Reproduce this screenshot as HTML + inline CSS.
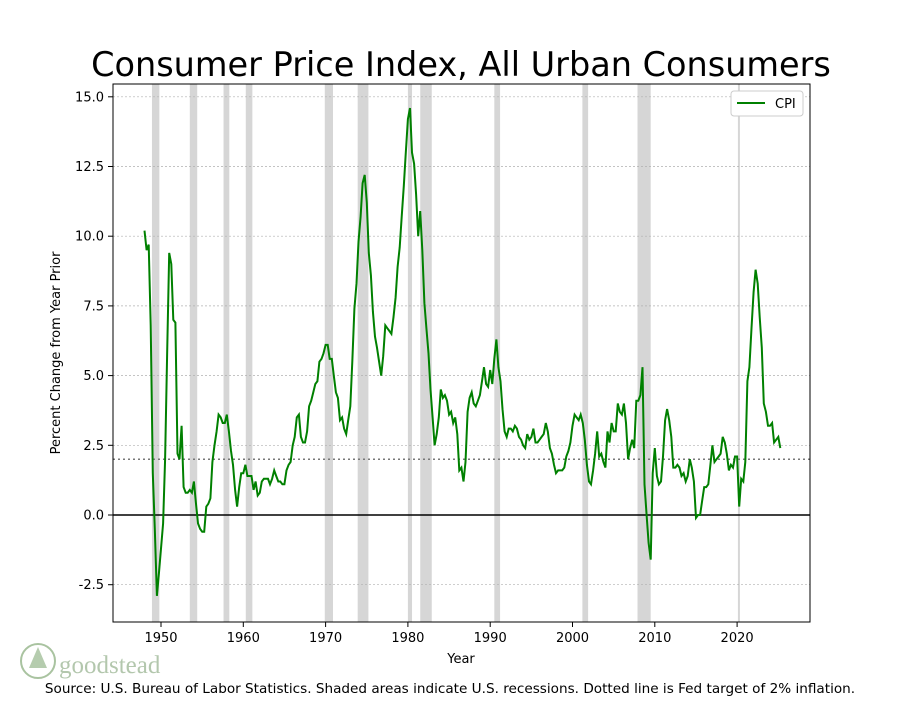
<!DOCTYPE html>
<html><head><meta charset="utf-8"><style>
body{margin:0;background:#fff;width:900px;height:700px;overflow:hidden;font-family:"Liberation Sans","DejaVu Sans",sans-serif}
</style></head><body>
<svg id="chart" width="900" height="700" xmlns="http://www.w3.org/2000/svg" font-family="DejaVu Sans, Liberation Sans, sans-serif">
<text x="461" y="76" font-size="33.5" text-anchor="middle">Consumer Price Index, All Urban Consumers</text>
<g id="rec"></g><g id="grid"></g><g id="ticks"></g>
<path id="line" fill="none" stroke="#008000" stroke-width="2"/>
<rect x="113" y="84" width="697" height="538" fill="none" stroke="#000" stroke-width="1"/>
<g>
<rect x="731" y="91" width="72" height="25" rx="3" fill="#fff" stroke="#ccc"/>
<line x1="737" y1="103" x2="765" y2="103" stroke="#008000" stroke-width="2"/>
<text x="775" y="108" font-size="13">CPI</text>
</g>
<text x="461" y="663" font-size="13" text-anchor="middle">Year</text>
<text transform="translate(60,353) rotate(-90)" font-size="13" text-anchor="middle">Percent Change from Year Prior</text>
<g>
<circle cx="38" cy="661" r="17" fill="none" stroke="#a9c3a0" stroke-width="2"/>
<path d="M38 647 L29 668 L47 668 Z" fill="#b5ccae"/>
<text x="59" y="673" font-family="Liberation Serif, serif" font-size="25" fill="#b3c7ad">goodstead</text>
</g>
<text x="450" y="693" font-size="13.6" text-anchor="middle">Source: U.S. Bureau of Labor Statistics. Shaded areas indicate U.S. recessions. Dotted line is Fed target of 2% inflation.</text>
</svg>
<script>
const startYear = 1948;
const cpiValues = [10.2,9.5,9.7,6.8, 1.5,-0.5,-2.9,-2.1, -1.2,-0.3,2.0,5.9, 9.4,9.0,7.0,6.9, 2.2,2.0,3.2,1.0, 0.8,0.8,0.9,0.8, 1.2,0.4,-0.3,-0.5, -0.6,-0.6,0.3,0.4, 0.6,1.9,2.5,3.0, 3.6,3.5,3.3,3.3, 3.6,3.0,2.3,1.8, 0.9,0.3,1.0,1.5, 1.5,1.8,1.4,1.4, 1.4,0.9,1.2,0.7, 0.8,1.2,1.3,1.3, 1.3,1.1,1.3,1.6, 1.4,1.2,1.2,1.1, 1.1,1.6,1.8,1.9, 2.5,2.8,3.5,3.6, 2.8,2.6,2.6,3.0, 3.9,4.1,4.4,4.7, 4.8,5.5,5.6,5.8, 6.1,6.1,5.6,5.6, 5.0,4.4,4.2,3.4, 3.5,3.1,2.9,3.4, 3.9,5.5,7.4,8.3, 9.8,10.7,11.9,12.2, 11.2,9.4,8.6,7.3, 6.4,6.0,5.5,5.0, 5.7,6.8,6.7,6.6, 6.5,7.1,7.8,8.9, 9.6,10.7,11.8,13.0, 14.2,14.6,13.0,12.6, 11.5,10.0,10.9,9.5, 7.6,6.7,5.8,4.5, 3.5,2.5,2.9,3.5, 4.5,4.2,4.3,4.1, 3.6,3.7,3.3,3.5, 2.9,1.6,1.7,1.2, 1.9,3.7,4.2,4.4, 4.0,3.9,4.1,4.3, 4.8,5.3,4.7,4.6, 5.2,4.7,5.6,6.3, 5.3,4.8,3.8,3.0, 2.8,3.1,3.1,3.0, 3.2,3.1,2.8,2.7, 2.5,2.4,2.9,2.7, 2.8,3.1,2.6,2.6, 2.7,2.8,2.9,3.3, 3.0,2.4,2.2,1.8, 1.5,1.6,1.6,1.6, 1.7,2.1,2.3,2.6, 3.2,3.6,3.5,3.4, 3.6,3.3,2.7,1.8, 1.2,1.1,1.6,2.2, 3.0,2.1,2.2,1.9, 1.7,3.0,2.6,3.3, 3.0,3.0,4.0,3.7, 3.6,4.0,3.3,2.0, 2.4,2.7,2.4,4.1, 4.1,4.3,5.3,1.1, 0.0,-1.0,-1.6,1.5, 2.4,1.4,1.1,1.2, 2.1,3.4,3.8,3.4, 2.8,1.7,1.7,1.8, 1.7,1.4,1.5,1.2, 1.4,2.0,1.7,1.2, -0.1,0.0,0.0,0.5, 1.0,1.0,1.1,1.8, 2.5,1.9,2.0,2.1, 2.2,2.8,2.6,2.2, 1.6,1.8,1.7,2.1, 2.1,0.3,1.3,1.2, 1.9,4.8,5.3,6.7, 8.0,8.8,8.3,7.1, 6.0,4.0,3.7,3.2, 3.2,3.3,2.6,2.7, 2.8,2.4];
const recStarts = [1948.9,1953.5,1957.6,1960.3,1969.9,1973.9,1980.0,1981.5,1990.5,2001.2,2007.9,2020.1];
const recEnds   = [1949.8,1954.4,1958.3,1961.1,1970.9,1975.2,1980.5,1982.9,1991.2,2001.9,2009.5,2020.3];
const xTicks = [1950,1960,1970,1980,1990,2000,2010,2020];
const yTicks = [-2.5,0,2.5,5,7.5,10,12.5,15];
const fedTarget = 2;

const NS="http://www.w3.org/2000/svg";
const X=y=>161+(y-1950)*8.23;
const Y=v=>515-v*27.88;
function mk(t,a,p){const e=document.createElementNS(NS,t);for(const k in a)e.setAttribute(k,a[k]);p.appendChild(e);return e;}
const rec=document.getElementById('rec');
recStarts.forEach((s,i)=>{
  const r=mk('rect',{x:X(s),y:84,width:Math.max(X(recEnds[i])-X(s),2),height:538,fill:'#d6d6d6'},rec);
  
  
});
const grid=document.getElementById('grid'), ticks=document.getElementById('ticks');
yTicks.forEach(v=>{
  const g=mk('line',{x1:113,x2:810,y1:Y(v),y2:Y(v),stroke:'#b0b0b0','stroke-width':0.7,'stroke-dasharray':'2,2'},grid);
  
  
  mk('line',{x1:108,x2:113,y1:Y(v),y2:Y(v),stroke:'#000'},ticks);
  const t=mk('text',{x:104,y:Y(v)+4.5,'font-size':13,'text-anchor':'end'},ticks);
  t.textContent=v.toFixed(1);
  
  
});
xTicks.forEach(v=>{
  mk('line',{x1:X(v),x2:X(v),y1:622,y2:627,stroke:'#000'},ticks);
  const t=mk('text',{x:X(v),y:642,'font-size':13,'text-anchor':'middle'},ticks);
  t.textContent=v;
  
  
});
const z=mk('line',{x1:113,x2:810,y1:Y(0),y2:Y(0),stroke:'#000','stroke-width':1.5},grid);


const f=mk('line',{x1:113,x2:810,y1:Y(fedTarget),y2:Y(fedTarget),stroke:'#777','stroke-width':1.5,'stroke-dasharray':'2,3'},grid);


let d='';
cpiValues.forEach((v,i)=>{d+=(i?'L':'M')+X(startYear+i/4).toFixed(1)+' '+Y(v).toFixed(1);});
document.getElementById('line').setAttribute('d',d);
</script>
</body></html>
